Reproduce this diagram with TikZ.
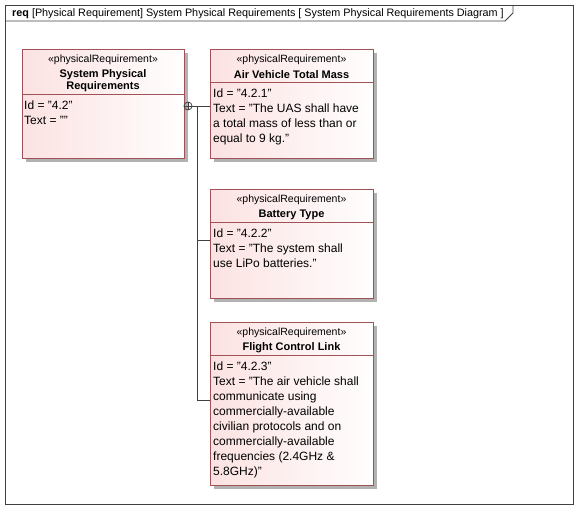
\documentclass[tikz,border=0pt]{standalone}
\usepackage{fontspec}
\setmainfont{Liberation Sans}
\usetikzlibrary{shadows,calc}

\definecolor{reqborder}{RGB}{160,82,86}
\definecolor{reqpink}{RGB}{252,226,226}
\definecolor{reqshadow}{RGB}{178,178,178}
\definecolor{wire}{RGB}{64,64,64}

\tikzset{
  reqbox/.style={draw=reqborder, line width=1.1pt, anchor=north west, inner sep=0pt,
    left color=reqpink, right color=white!96!reqpink,
    drop shadow={shadow xshift=3pt, shadow yshift=-3pt, fill=reqshadow, opacity=1}},
  stereo/.style={font=\fontsize{10.5}{12}\selectfont, inner sep=0pt},
  reqname/.style={font=\fontsize{11}{12}\selectfont\bfseries, inner sep=0pt, align=center},
  reqbody/.style={font=\fontsize{12}{15}\selectfont, inner sep=0pt, anchor=north west, align=left},
  divider/.style={draw=reqborder, line width=1pt},
  contain/.style={circle, draw=wire, line width=0.8pt, minimum size=8pt, inner sep=0pt},
}

\begin{document}
\begin{tikzpicture}[x=1pt, y=-1pt]
   \useasboundingbox (0,0) rectangle (578,509);
   % diagram frame
   \draw[wire, line width=0.8pt] (5,5) rectangle (573,504);
   \draw[wire, line width=0.8pt] (5,21) -- (505,21) -- (513,13) -- (513,5);
   \node[anchor=west, inner sep=0pt, font=\fontsize{10.8}{13}\selectfont] (title) at (12,13.5)
     {\textbf{req} [Physical Requirement] System Physical Requirements [ System Physical Requirements Diagram ]};

   % requirements
   \node[reqbox, minimum width=162pt, minimum height=109pt] (sys) at (22,49) {};
   \node[reqbox, minimum width=163pt, minimum height=109pt] (air) at (210,49) {};
   \node[reqbox, minimum width=163pt, minimum height=109pt] (bat) at (210,189) {};
   \node[reqbox, minimum width=163pt, minimum height=163pt] (flc) at (210,322) {};

   \draw[divider] (22,94) -- (184,94);
   \draw[divider] (210,82) -- (373,82);
   \draw[divider] (210,222) -- (373,222);
   \draw[divider] (210,355) -- (373,355);

   \node[stereo] (sys_st) at (103,59.5) {«physicalRequirement»};
   \node[reqname] (sys_nm) at (103,80.5) {System Physical\\Requirements};
   \node[reqbody] (sys_tx) at (24,101) {Id = "4.2"\\Text = ""};

   \node[stereo] (air_st) at (291.5,59.5) {«physicalRequirement»};
   \node[reqname] (air_nm) at (291.5,74.5) {Air Vehicle Total Mass};
   \node[reqbody] (air_tx) at (213,89) {Id = "4.2.1"\\Text = "The UAS shall have\\a total mass of less than or\\equal to 9 kg."};

   \node[stereo] (bat_st) at (291.5,199.5) {«physicalRequirement»};
   \node[reqname] (bat_nm) at (291.5,214.5) {Battery Type};
   \node[reqbody] (bat_tx) at (213,229) {Id = "4.2.2"\\Text = "The system shall\\use LiPo batteries."};

   \node[stereo] (flc_st) at (291.5,332.5) {«physicalRequirement»};
   \node[reqname] (flc_nm) at (291.5,347.5) {Flight Control Link};
   \node[reqbody] (flc_tx) at (213,362) {Id = "4.2.3"\\Text = "The air vehicle shall\\communicate using\\commercially-available\\civilian protocols and on\\commercially-available\\frequencies (2.4GHz \&\\5.8GHz)"};

   % containment
   \node[contain] (own) at (188,106) {};
   \draw[wire, line width=0.8pt] (own.north) -- (own.south) (own.west) -- (own.east);
   \coordinate (jn) at (197,106);
   \draw[wire, line width=0.8pt] (own.east) -- (own.east -| air.west);
   \draw[wire, line width=0.8pt] (jn) |- ([yshift=-51pt]bat.north west);
   \draw[wire, line width=0.8pt] (jn) |- ([yshift=-78pt]flc.north west);
\end{tikzpicture}
\end{document}
